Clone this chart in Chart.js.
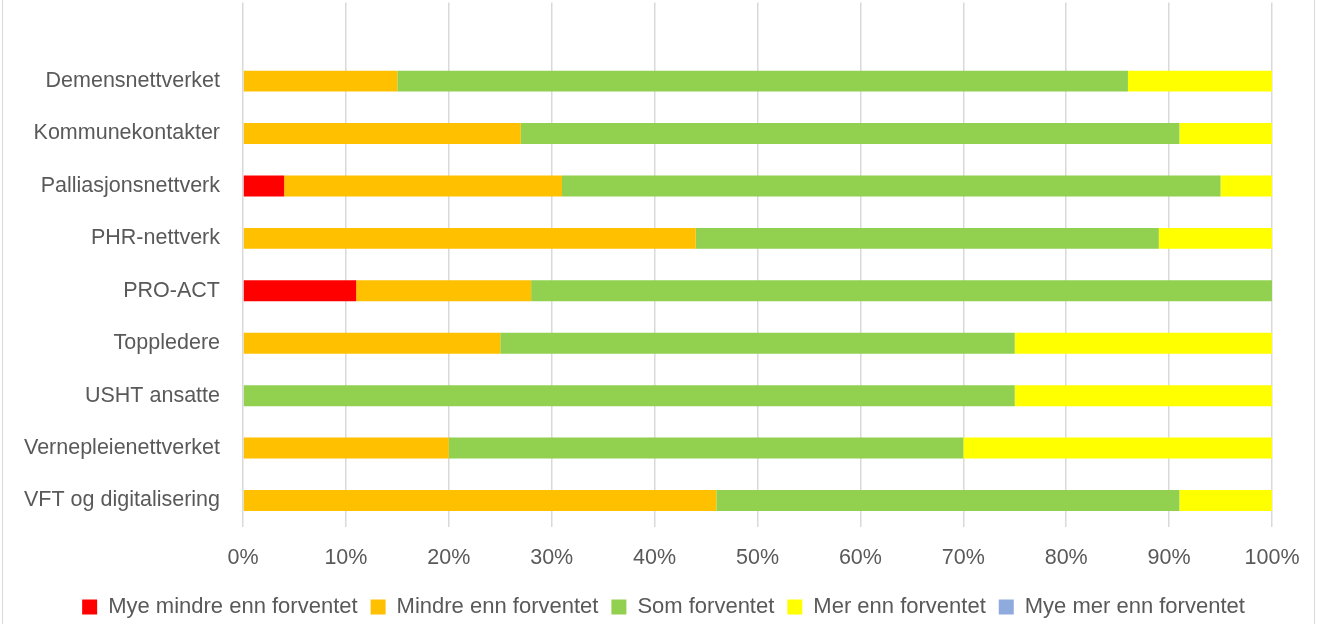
<!DOCTYPE html>
<html>
<head>
<meta charset="utf-8">
<script src="https://cdn.jsdelivr.net/npm/chart.js@4"></script>
<style>
  html, body { margin: 0; padding: 0; background: #fff; overflow: hidden; }
  #wrap {
    position: absolute; left: 2px; top: 0;
    width: 1311px; height: 628px;
    border-left: 1px solid #d9d9d9; border-right: 1px solid #d9d9d9;
  }
  #wrap canvas { display: block; }
</style>
</head>
<body>
<div id="wrap"><canvas id="chart"></canvas></div>
<script>
// ── Data ──────────────────────────────────────────────────────
// first entry left blank: the plot runs up under the (cropped) title
const categories = ['', 'Demensnettverket', 'Kommunekontakter', 'Palliasjonsnettverk',
  'PHR-nettverk', 'PRO-ACT', 'Toppledere', 'USHT ansatte',
  'Vernepleienettverket', 'VFT og digitalisering'];

const seriesNames = ['Mye mindre enn forventet', 'Mindre enn forventet',
  'Som forventet', 'Mer enn forventet', 'Mye mer enn forventet'];

const myeMindre = [null, 0, 0, 4, 0, 11, 0, 0, 0, 0];
const mindre    = [null, 15, 27, 27, 44, 17, 25, 0, 20, 46];
const som       = [null, 71, 64, 64, 45, 72, 50, 75, 50, 45];
const mer       = [null, 14, 9, 5, 11, 0, 25, 25, 30, 9];
const myeMer    = [null, 0, 0, 0, 0, 0, 0, 0, 0, 0];

const xTicks = [0, 10, 20, 30, 40, 50, 60, 70, 80, 90, 100];

const colors = ['#ff0000', '#ffc000', '#92d050', '#ffff00', '#8faadc'];

// ── Chart ─────────────────────────────────────────────────────
const canvas = document.getElementById('chart');
canvas.width = 1311;
canvas.height = 628;

const seriesData = [myeMindre, mindre, som, mer, myeMer];
const font = { family: 'Liberation Sans', size: 21.5 };

// legend sits centred under the plot, not under the whole canvas
const legendShift = {
  id: 'legendShift',
  afterLayout: chart => {
    chart.legend.left += 26;
    chart.legend.right += 26;
  }
};

new Chart(canvas, {
  type: 'bar',
  data: {
    labels: categories,
    datasets: seriesData.map((d, i) => ({
      label: seriesNames[i],
      data: d,
      backgroundColor: colors[i],
      borderWidth: 0,
      barPercentage: 1,
      categoryPercentage: 0.4
    }))
  },
  options: {
    indexAxis: 'y',
    animation: false,
    responsive: false,
    layout: { padding: { top: 2.5, right: 42, left: 0, bottom: 0 } },
    plugins: {
      tooltip: { enabled: false },
      legend: {
        position: 'bottom',
        labels: {
          boxWidth: 15,
          boxHeight: 15,
          padding: 13,
          color: '#595959',
          font: { family: 'Liberation Sans', size: 22 }
        }
      }
    },
    scales: {
      x: {
        stacked: true,
        min: 0,
        max: 100,
        afterBuildTicks: axis => { axis.ticks = xTicks.map(v => ({ value: v })); },
        afterFit: axis => {
          axis.paddingLeft = 0;
          axis.paddingRight = 0;
          axis.height -= 5.5;
        },
        ticks: {
          color: '#595959',
          padding: 18,
          font: font,
          callback: v => v + '%'
        },
        grid: { color: '#d9d9d9', lineWidth: 1.5, drawTicks: false },
        border: { display: false }
      },
      y: {
        stacked: true,
        afterFit: axis => {
          axis.width = 240;
          axis.paddingTop = 0;
          axis.paddingBottom = 0;
        },
        ticks: {
          color: '#595959',
          padding: 23,
          font: font
        },
        grid: { display: false, drawTicks: false },
        border: { display: false }
      }
    }
  },
  plugins: [legendShift]
});
</script>
</body>
</html>
